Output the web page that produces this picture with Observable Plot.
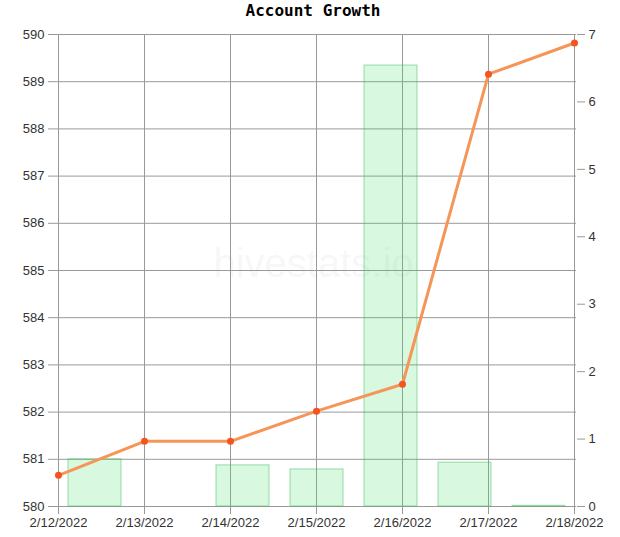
<!DOCTYPE html>
<html>
<head>
<meta charset="utf-8">
<script src="https://cdn.jsdelivr.net/npm/d3@7"></script>
<script src="https://cdn.jsdelivr.net/npm/@observablehq/plot@0.6"></script>
<style>
  html, body { margin: 0; padding: 0; background: #fff; }
  #root { position: relative; width: 620px; height: 537px; overflow: hidden; }
  #title { position: absolute; left: 0; top: 0; width: 626px; height: 22px; line-height: 22px; text-align: center;
           font-family: "DejaVu Sans Mono", monospace; font-weight: bold; font-size: 16px; color: #000; }
  .layer { position: absolute; left: 0; top: 22px; }
  .layer svg { font-family: "Liberation Sans Narrow", "Liberation Sans", Arial, sans-serif; font-size: 13px; color: #333; background: transparent; }
  .layer g[aria-label$="tick"] { stroke: #999; }
</style>
</head>
<body>
<div id="root">
  <div id="title">Account Growth</div>
  <div class="layer" id="l1"></div>
  <div class="layer" id="l2"></div>
  <div class="layer" id="l3"></div>
</div>
<script>
const dates = ["2/12/2022", "2/13/2022", "2/14/2022", "2/15/2022", "2/16/2022", "2/17/2022", "2/18/2022"];
const balance = [580.66, 581.38, 581.38, 582.02, 582.59, 589.16, 589.82];
const growth = [0.70, 0, 0.61, 0.55, 6.54, 0.65, 0.01];
const leftTicks = [580, 581, 582, 583, 584, 585, 586, 587, 588, 589, 590];
const rightTicks = [0, 1, 2, 3, 4, 5, 6, 7];
const watermark = "hivestats.io";

const lineData = dates.map((d, i) => ({date: d, value: balance[i]}));
const barData = dates.map((d, i) => ({date: d, value: growth[i]})).filter(d => d.value > 0);

const W = 620, H = 515;
const M = {marginLeft: 56, marginRight: 44, marginTop: 12, marginBottom: 31};
const xPoint = {type: "point", domain: dates, padding: 0};
const yLeft = {domain: [580, 590]};

// Layer 1: grid, left & bottom axes, watermark
const p1 = Plot.plot({
  width: W, height: H, ...M,
  x: xPoint, y: yLeft,
  marks: [
    Plot.text([watermark], {frameAnchor: "middle", text: d => d, fontSize: 40, fill: "#000", fillOpacity: 0.05,
      fontFamily: "Liberation Sans, Arial, sans-serif", dx: -3, dy: -6}),
    Plot.gridX(dates, {stroke: "#999", strokeOpacity: 1}),
    Plot.gridY(leftTicks, {stroke: "#999", strokeOpacity: 1}),
    Plot.axisY(leftTicks, {anchor: "left", tickSize: 8, tickPadding: 4, label: null, tickFormat: d => d}),
    Plot.axisX(dates, {anchor: "bottom", tickSize: 8, tickPadding: 3, label: null})
  ]
});
document.getElementById("l1").append(p1);

// Layer 2: bars on band scale, right axis
const p2 = Plot.plot({
  width: W, height: H, ...M,
  x: {type: "band", domain: dates, paddingInner: 0.29, paddingOuter: 0.14, axis: null},
  y: {domain: [0, 7]},
  marks: [
    Plot.barY(barData, {x: "date", y: "value", fill: "rgb(60,220,100)", fillOpacity: 0.2,
      stroke: "rgb(60,190,90)", strokeOpacity: 0.5, strokeWidth: 1}),
    Plot.axisY(rightTicks, {anchor: "right", tickSize: 8, tickPadding: 4, label: null, tickFormat: d => String(d)})
  ]
});
document.getElementById("l2").append(p2);

// Layer 3: line + points
const p3 = Plot.plot({
  width: W, height: H, ...M,
  x: {...xPoint, axis: null}, y: {...yLeft, axis: null},
  marks: [
    Plot.line(lineData, {x: "date", y: "value", stroke: "rgb(245,150,88)", strokeWidth: 3}),
    Plot.dot(lineData, {x: "date", y: "value", r: 3.5, fill: "rgb(244,84,32)", stroke: "none"})
  ]
});
document.getElementById("l3").append(p3);
</script>
</body>
</html>
